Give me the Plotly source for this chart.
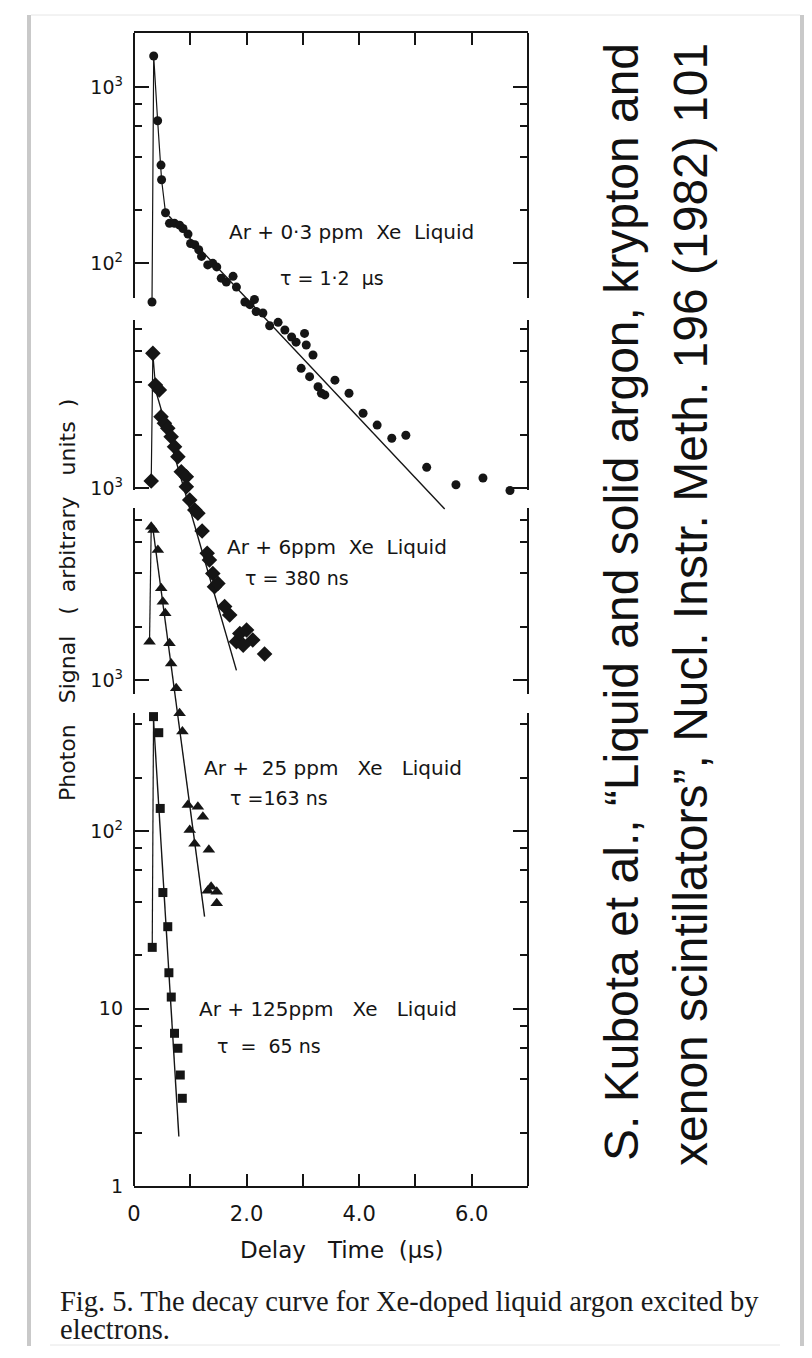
import math
import plotly.graph_objects as go

# ---------------- data ----------------
# Panel 1: Ar + 0.3 ppm Xe (circles)
t1 = [0.32, 0.35, 0.42, 0.48, 0.49, 0.56, 0.63, 0.72, 0.81, 0.87, 0.96, 1.005, 1.08, 1.15, 1.20,
      1.31, 1.40, 1.47, 1.55, 1.64, 1.76, 1.82, 1.97, 2.06, 2.14, 2.17, 2.29, 2.41, 2.56, 2.68,
      2.80, 2.88, 2.97, 3.03, 3.06, 3.12, 3.18, 3.27, 3.33, 3.39, 3.57, 3.82, 4.07, 4.32, 4.58,
      4.83, 5.20, 5.72, 6.20, 6.68]
v1 = [60, 1500, 643, 360, 297, 193, 168, 168, 164, 157, 146, 129, 127, 119, 109,
      97.5, 99.6, 95, 82, 78, 84, 73, 60, 58, 62, 53, 52, 44, 46, 41.6,
      38, 35.5, 25.2, 39.8, 34.2, 22.6, 30, 19.8, 18.2, 17.8, 21.6, 18.2, 14.0, 12.0, 10.1,
      10.5, 6.9, 5.5, 6.0, 5.1]
fit1_t = [0.62, 5.52]
fit1_v = [185, 4.0]

# Panel 2: Ar + 6 ppm Xe (diamonds)
t2 = [0.306, 0.335, 0.38, 0.45, 0.48, 0.54, 0.60, 0.66, 0.72, 0.78, 0.84, 0.93, 0.93, 0.99, 1.08,
      1.135, 1.21, 1.30, 1.34, 1.40, 1.43, 1.49, 1.61, 1.70, 1.82, 1.88, 1.94, 2.00, 2.11, 2.32]
v2 = [1096, 5821, 3846, 3606, 2541, 2333, 2183, 1955, 1716, 1507, 1238, 1159, 1017, 855, 750,
      718, 570, 426, 390, 327, 275, 287, 212, 190, 134, 149, 128, 156, 137, 114]
fit2_t = [0.40, 1.82]
fit2_v = [3450, 92]

# Panel 3: Ar + 25 ppm Xe (triangles)
t3 = [0.276, 0.306, 0.347, 0.424, 0.484, 0.513, 0.555, 0.63, 0.66, 0.75, 0.81, 0.86, 0.957,
      0.99, 1.076, 1.135, 1.224, 1.31, 1.33, 1.37, 1.47, 1.47]
v3 = [1645, 7345, 7030, 5420, 3296, 2768, 2380, 1611, 1241, 898, 649, 511, 197,
      142, 119, 192, 169, 64.5, 110, 68, 63.7, 54.8]
fit3_t = [0.335, 1.254]
fit3_v = [7200, 46]

# Panel 4: Ar + 125 ppm Xe (squares)
t4 = [0.324, 0.347, 0.44, 0.466, 0.513, 0.60, 0.62, 0.662, 0.72, 0.78, 0.822, 0.858]
v4 = [22.1, 441, 358, 134, 45, 28.9, 15.9, 11.6, 7.25, 5.97, 4.22, 3.12]
fit4_t = [0.347, 0.797]
fit4_v = [422, 1.9]

rise_n = [6, 3, 2, 2]   # number of leading points joined by the rising-edge line

x_tickvals = [0, 1, 2, 3, 4, 5, 6]
x_ticktext = ["0", "", "2.0", "", "4.0", "", "6.0"]

labels = ["Ar + 0·3 ppm  Xe  Liquid", "Ar + 6ppm  Xe  Liquid",
          "Ar +  25 ppm   Xe   Liquid", "Ar + 125ppm   Xe   Liquid"]
taus = ["τ = 1·2  µs", "τ = 380 ns", "τ =163 ns", "τ  =  65 ns"]

# ---------------- layout geometry ----------------
W, H = 812, 1358
L, R, T, B = 134, 284, 33, 172
PW, PH = W - L - R, H - T - B
INK = "#151515"
FONT = "DejaVu Sans"


def pxx(xp):
    return (xp - L) / PW


def pxy(yp):
    return (H - B - yp) / PH


def log_range(ref_val, ref_px, dec_px):
    lv = math.log10(ref_val)
    return [lv - (H - B - ref_px) / dec_px, lv + (ref_px - T) / dec_px]


fig = go.Figure()

series = [(t1, v1, fit1_t, fit1_v, "circle", 9, "y"),
          (t2, v2, fit2_t, fit2_v, "diamond", 12, "y2"),
          (t3, v3, fit3_t, fit3_v, "triangle-up", 11, "y3"),
          (t4, v4, fit4_t, fit4_v, "square", 9, "y4")]

for i, (tt, vv, ft, fv, sym, sz, ya) in enumerate(series):
    n = rise_n[i]
    fig.add_trace(go.Scatter(x=tt[:n], y=vv[:n], mode="lines", yaxis=ya,
                             line=dict(color=INK, width=1.2), showlegend=False, hoverinfo="skip"))
    fig.add_trace(go.Scatter(x=ft, y=fv, mode="lines", yaxis=ya,
                             line=dict(color=INK, width=1.4), showlegend=False))
    fig.add_trace(go.Scatter(x=tt, y=vv, mode="markers", yaxis=ya, cliponaxis=False,
                             marker=dict(symbol=sym, size=sz, color=INK, line=dict(width=0)),
                             showlegend=False))


def yax(rng, major, major_txt, minor):
    return dict(type="log", range=rng, domain=[0, 1], anchor="x", side="left",
                showgrid=False, zeroline=False, showline=False,
                tickmode="array", tickvals=major, ticktext=major_txt,
                ticks="inside", ticklen=15, tickwidth=1.8, tickcolor=INK, mirror="ticks",
                tickfont=dict(family=FONT, size=19, color=INK), ticklabelstandoff=10,
                minor=dict(tickmode="array", tickvals=minor, ticks="inside", ticklen=8,
                           tickwidth=1.5, tickcolor=INK, showgrid=False))


fig.update_layout(
    width=W, height=H, margin=dict(l=L, r=R, t=T, b=B, autoexpand=False),
    paper_bgcolor="white", plot_bgcolor="white",
    font=dict(family=FONT, color=INK),
    xaxis=dict(range=[0, 7], domain=[0, 1], showgrid=False, zeroline=False,
               showline=True, linewidth=2, linecolor=INK, mirror="ticks",
               tickmode="array", tickvals=x_tickvals, ticktext=x_ticktext,
               ticks="inside", ticklen=12, tickwidth=1.8, tickcolor=INK,
               tickfont=dict(family=FONT, size=21, color=INK), ticklabelstandoff=8),
    yaxis=yax(log_range(1000, 87, 176), [100, 1000], ["10<sup>2</sup>", "10<sup>3</sup>"],
              [200, 400, 600, 800]),
    yaxis2=dict(**yax(log_range(1000, 488, 176), [1000], ["10<sup>3</sup>"],
                      [2000, 4000, 6000, 8000]), overlaying="y"),
    yaxis3=dict(**yax(log_range(1000, 680, 177), [1000], ["10<sup>3</sup>"],
                      [2000, 4000, 6000, 8000]), overlaying="y"),
    yaxis4=dict(**yax(log_range(1, 1186, 177.5), [1, 10, 100], ["1", "10", "10<sup>2</sup>"],
                      [2, 4, 6, 8, 20, 40, 60, 80, 200, 400]), overlaying="y"),
)

# panel frame segments (left and right)
panel_px = [(33, 298), (320, 490), (508, 694), (713, 1186)]
shapes = []
for top_px, bot_px in panel_px:
    for xe in (0, 1):
        shapes.append(dict(type="line", xref="paper", yref="paper", x0=xe, x1=xe,
                           y0=pxy(bot_px), y1=pxy(top_px), line=dict(color=INK, width=2)))
# slide border
shapes.append(dict(type="line", xref="paper", yref="paper", x0=pxx(29), x1=pxx(29),
                   y0=pxy(1346), y1=pxy(15), line=dict(color="#c9c9c9", width=4)))
shapes.append(dict(type="line", xref="paper", yref="paper", x0=pxx(802), x1=pxx(802),
                   y0=pxy(1346), y1=pxy(15), line=dict(color="#c9c9c9", width=4)))
shapes.append(dict(type="line", xref="paper", yref="paper", x0=pxx(31), x1=pxx(800),
                   y0=pxy(15), y1=pxy(15), line=dict(color="#e6e6e6", width=1)))
shapes.append(dict(type="line", xref="paper", yref="paper", x0=pxx(50), x1=pxx(780),
                   y0=pxy(1345), y1=pxy(1345), line=dict(color="#e6e6e6", width=1)))
fig.update_layout(shapes=shapes)

ann = []
label_pos = [(227, 232), (225, 547), (202, 768), (197, 1009)]
tau_pos = [(278, 278), (243, 578), (228, 798), (215, 1046)]
for (lx, ly), txt in zip(label_pos, labels):
    ann.append(dict(x=pxx(lx), y=pxy(ly), xref="paper", yref="paper", text=txt, showarrow=False,
                    xanchor="left", yanchor="middle", font=dict(family=FONT, size=20, color=INK)))
for (lx, ly), txt in zip(tau_pos, taus):
    ann.append(dict(x=pxx(lx), y=pxy(ly), xref="paper", yref="paper", text=txt, showarrow=False,
                    xanchor="left", yanchor="middle", font=dict(family=FONT, size=19, color=INK)))

# axis titles
ann.append(dict(x=pxx(341), y=pxy(1250), xref="paper", yref="paper", text="Delay   Time  (µs)",
                showarrow=False, xanchor="center", yanchor="middle",
                font=dict(family=FONT, size=23, color=INK)))
ann.append(dict(x=pxx(67), y=pxy(600), xref="paper", yref="paper",
                text="Photon   Signal   (  arbitrary   units  )", textangle=-90,
                showarrow=False, xanchor="center", yanchor="middle",
                font=dict(family=FONT, size=22, color=INK)))

# citation (rotated)
ann.append(dict(x=pxx(622), y=pxy(602), xref="paper", yref="paper",
                text="S. Kubota et al., “Liquid and solid argon, krypton and", textangle=-90,
                showarrow=False, xanchor="center", yanchor="middle",
                font=dict(family="Liberation Sans", size=48, color="#111111")))
ann.append(dict(x=pxx(690), y=pxy(605), xref="paper", yref="paper",
                text="xenon scintillators”, Nucl. Instr. Meth. 196 (1982) 101", textangle=-90,
                showarrow=False, xanchor="center", yanchor="middle",
                font=dict(family="Liberation Sans", size=48, color="#111111")))

# caption
ann.append(dict(x=pxx(58), y=pxy(1301), xref="paper", yref="paper",
                text="Fig. 5. The decay curve for Xe-doped liquid argon excited by",
                showarrow=False, xanchor="left", yanchor="middle",
                font=dict(family="Liberation Serif", size=28.5, color="#1a1a1a")))
ann.append(dict(x=pxx(58), y=pxy(1329), xref="paper", yref="paper", text="electrons.",
                showarrow=False, xanchor="left", yanchor="middle",
                font=dict(family="Liberation Serif", size=28.5, color="#1a1a1a")))
fig.update_layout(annotations=ann)

fig.write_html("out.html")
